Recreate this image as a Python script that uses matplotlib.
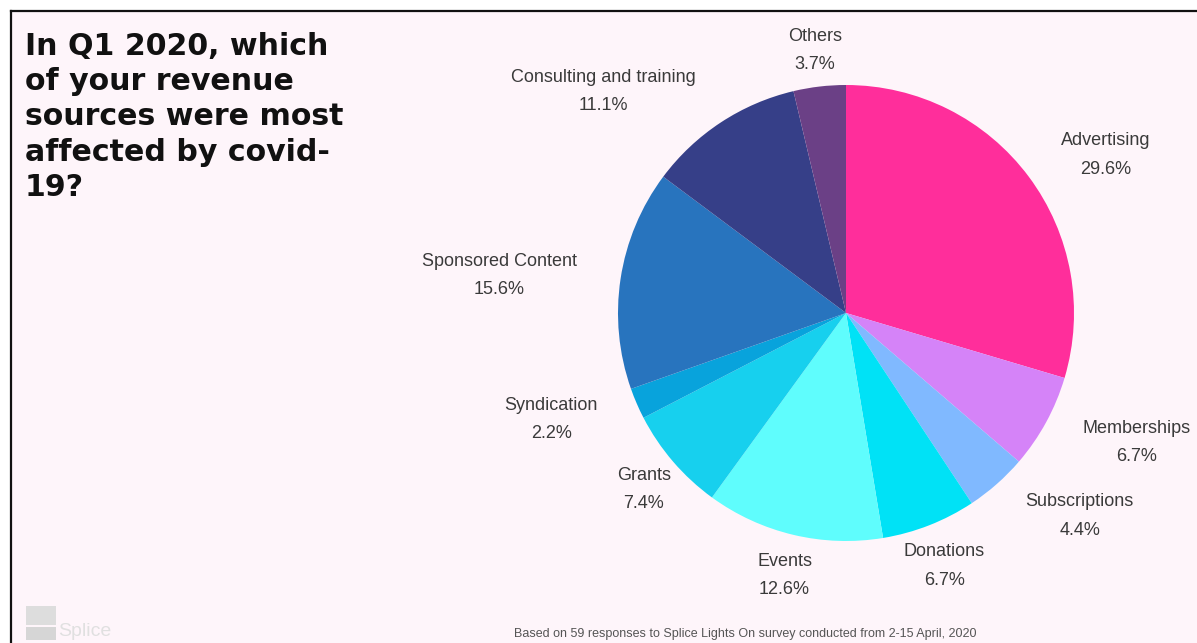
import numpy as np
import matplotlib
matplotlib.use('Agg')
import matplotlib.pyplot as plt
import matplotlib.patches as mp
import matplotlib.lines as ml

# data
sources = ['Advertising', 'Memberships', 'Subscriptions', 'Donations', 'Events',
           'Grants', 'Syndication', 'Sponsored Content', 'Consulting and training', 'Others']
shares = [29.6, 6.7, 4.4, 6.7, 12.6, 7.4, 2.2, 15.6, 11.1, 3.7]
colors = ['#ff2e9b', '#d583f8', '#80b9ff', '#00e2f6', '#5ffdfd',
          '#17d0ee', '#08a3dc', '#2874be', '#363f88', '#6b4086']

# label placement (radius, angle shift in degrees)
lab_r = [1.34, 1.39, 1.35, 1.18, 1.17, 1.17, 1.37, 1.53, 1.45, 1.17]
lab_da = [-5, 5, 8, 0, 0, 0, -4, 2, 14, 0]

BG = '#fef5fa'
W, H = 1197, 643


def main():
    fig = plt.figure(figsize=(W / 100, H / 100), dpi=100)
    fig.patch.set_facecolor('white')
    # panel background + border
    fig.add_artist(mp.Rectangle((11 / W, 0), 1, 1 - 11 / H, transform=fig.transFigure,
                                facecolor=BG, edgecolor='none', zorder=0))
    fig.add_artist(ml.Line2D([11 / W, 11 / W], [0, 1 - 11 / H], transform=fig.transFigure,
                             color='#111111', lw=1.6))
    fig.add_artist(ml.Line2D([11 / W, 1], [1 - 11 / H, 1 - 11 / H], transform=fig.transFigure,
                             color='#111111', lw=1.6))

    # pie: center (846, 313) px, radius 228 px
    R, cx, cy = 228, 846, 313
    lim = 1.6
    side = 2 * lim * R
    ax = fig.add_axes([(cx - side / 2) / W, (H - cy - side / 2) / H, side / W, side / H])
    ax.axis('off')
    wedges, _ = ax.pie(shares, colors=colors, startangle=90, counterclock=False,
                       radius=1.0, wedgeprops=dict(linewidth=0))
    ax.set_aspect('equal')
    ax.set_xlim(-lim, lim)
    ax.set_ylim(-lim, lim)

    for w, name, val, r, da in zip(wedges, sources, shares, lab_r, lab_da):
        ang = np.deg2rad((w.theta1 + w.theta2) / 2 + da)
        x, y = r * np.cos(ang), r * np.sin(ang) - 0.012
        ax.text(x, y + 0.025, name, ha='center', va='bottom', fontsize=13,
                family='Liberation Sans', color='#3a3a3a')
        ax.text(x, y - 0.025, '%.1f%%' % val, ha='center', va='top', fontsize=13,
                family='Liberation Sans', color='#3a3a3a')

    # title
    fig.text(25 / W, 1 - 32 / H, 'In Q1 2020, which\nof your revenue\nsources were most\naffected by covid-\n19?',
             ha='left', va='top', fontsize=21.6, fontweight='bold', family='DejaVu Sans',
             color='#111111', linespacing=1.27)

    # footer
    fig.text(745 / W, 1 - 634 / H, 'Based on 59 responses to Splice Lights On survey conducted from 2-15 April, 2020',
             ha='center', va='center', fontsize=9, color='#555555', family='Liberation Sans')
    # logo
    fig.add_artist(mp.Rectangle((26 / W, 1 - 625 / H), 30 / W, 19 / H, transform=fig.transFigure,
                                facecolor='#dddddd', edgecolor='none'))
    fig.add_artist(mp.Rectangle((26 / W, 1 - 640 / H), 30 / W, 13 / H, transform=fig.transFigure,
                                facecolor='#d6d6d6', edgecolor='none'))
    fig.text(58 / W, 1 - 632 / H, 'Splice', ha='left', va='center', fontsize=14,
             color='#e0e0e0', family='Liberation Sans')

    plt.savefig('out.png', dpi=100, facecolor=fig.get_facecolor())


if __name__ == '__main__':
    main()
